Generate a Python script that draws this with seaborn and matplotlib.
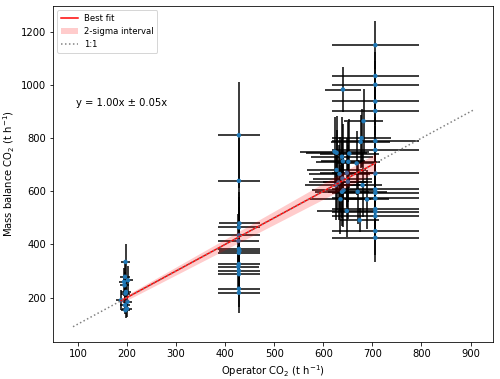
import numpy as np
import matplotlib
matplotlib.use('Agg')
import matplotlib.pyplot as plt
import seaborn as sns
from matplotlib.patches import Patch
from matplotlib.lines import Line2D

# grupo 1 (~200 t/h)
x1 = [197, 196, 202, 194, 195, 198, 197, 188, 201, 196, 200, 197]
y1 = [334, 278, 265, 259, 246, 221, 215, 190, 184, 171, 158, 152]
xerr1 = [10, 10, 10, 10, 10, 10, 10, 10, 10, 10, 10, 10]
yerr1 = [68, 56, 53, 52, 49, 44, 43, 38, 37, 34, 32, 30]

# grupo 2 (~430 t/h)
x2 = [428, 428, 429, 428, 428, 427, 428, 429, 428, 428, 427, 428, 428, 428, 428]
y2 = [811, 639, 479, 464, 434, 413, 383, 376, 368, 326, 316, 301, 288, 233, 218]
xerr2 = [42] * 15
yerr2 = [200, 160, 120, 116, 108, 103, 96, 94, 92, 82, 79, 75, 72, 70, 76]

# grupo 3, coluna em ~706 t/h
x3 = [706] * 16
y3 = [1150, 1034, 1001, 938, 902, 789, 755, 667, 607, 594, 573, 533, 523, 506, 450, 425]
xerr3 = [88] * 16
yerr3 = [90] * 16

# grupo 3, pontos densos
x4 = [640, 682, 678, 676, 623, 627, 638, 640, 653, 651, 668, 627, 633, 648, 639, 650,
      625, 631, 680, 641, 638, 670, 635, 689, 648, 674]
y4 = [983, 864, 800, 786, 749, 745, 730, 713, 742, 711, 705, 680, 665, 669, 648, 636,
      623, 633, 623, 604, 598, 598, 570, 569, 526, 491]
xerr4 = [37, 40, 60, 60, 70, 62, 64, 45, 60, 65, 40, 60, 63, 55, 60, 50,
         62, 60, 40, 64, 55, 60, 63, 45, 60, 40]
yerr4 = [85, 120, 110, 100, 130, 140, 150, 140, 130, 150, 120, 150, 140, 130, 150, 140,
         130, 140, 120, 140, 130, 120, 130, 110, 100, 45]

# ajuste
slope = 1.00
slope_2sigma = 0.05
one_to_one = [90, 905]

x = np.array(x1 + x2 + x3 + x4, dtype=float)
y = np.array(y1 + y2 + y3 + y4, dtype=float)
xerr = np.array(xerr1 + xerr2 + xerr3 + xerr4, dtype=float)
yerr = np.array(yerr1 + yerr2 + yerr3 + yerr4, dtype=float)

fig = plt.figure(figsize=(500 / 72, 379 / 72), dpi=72)
ax = fig.add_axes([0.106, 0.0976, 0.88, 0.8866])

ax.errorbar(x, y, xerr=xerr, yerr=yerr, fmt='none', ecolor='black', elinewidth=1.5, zorder=1)
sns.scatterplot(x=x, y=y, ax=ax, color='tab:blue', s=20, edgecolor='none', legend=False, zorder=2)

# melhor ajuste e intervalo
xf = np.linspace(x.min(), x.max(), 100)
ax.fill_between(xf, xf * (slope - slope_2sigma), xf * (slope + slope_2sigma),
                color='red', alpha=0.2, linewidth=0, zorder=3)
sns.lineplot(x=xf, y=xf * slope, ax=ax, color='red', linewidth=1.5, zorder=4)

# linha 1:1
sns.lineplot(x=one_to_one, y=one_to_one, ax=ax, color='gray', linestyle=':', linewidth=1.5, zorder=5)

ax.text(0.052, 0.71, f'y = {slope:.2f}x ± {slope_2sigma:.2f}x', transform=ax.transAxes,
        fontsize=10, va='center')

handles = [Line2D([], [], color='red', linewidth=1.5),
           Patch(facecolor='red', alpha=0.2, linewidth=0),
           Line2D([], [], color='gray', linestyle=':', linewidth=1.5)]
ax.legend(handles, ['Best fit', '2-sigma interval', '1:1'], loc='upper left', fontsize=8.5)

ax.set_xlabel('Operator CO$_2$ (t h$^{-1}$)')
ax.set_ylabel('Mass balance CO$_2$ (t h$^{-1}$)')

plt.savefig('out.png', dpi=72)
